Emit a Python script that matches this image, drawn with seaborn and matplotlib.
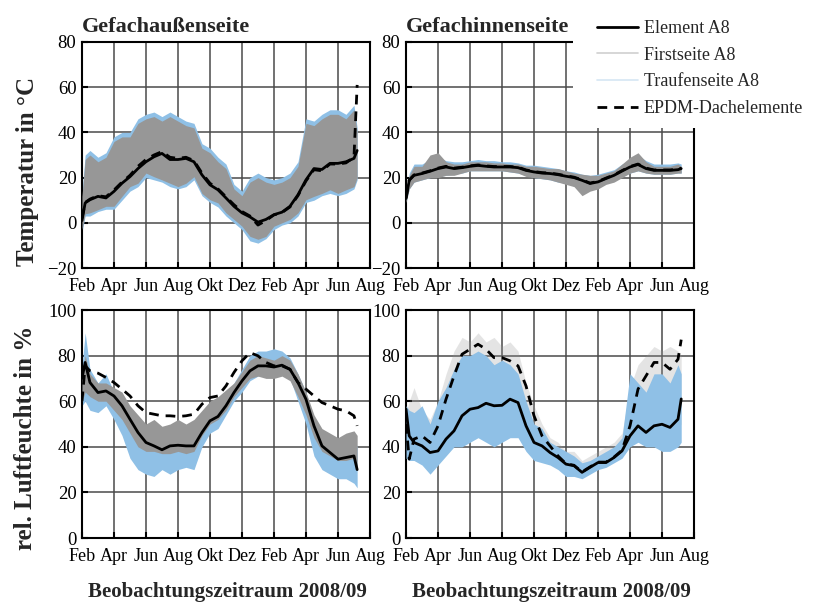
import matplotlib
matplotlib.use("Agg")
import matplotlib.pyplot as plt
from matplotlib.lines import Line2D
from matplotlib.patches import Rectangle
import seaborn as sns

# time axis in months since Feb 2008 (0 = Feb 08, 18 = Aug 09)
months = [0, 0.2, 0.5, 1, 1.5, 2, 2.5, 3, 3.5, 4, 4.5, 5, 5.5, 6, 6.5, 7, 7.5, 8, 8.5,
          9, 9.5, 10, 10.5, 11, 11.5, 12, 12.5, 13, 13.5, 14, 14.5, 15, 15.5, 16, 16.5, 17, 17.2]
tick_labels = ["Feb", "Apr", "Jun", "Aug", "Okt", "Dez", "Feb", "Apr", "Jun", "Aug"]

# Gefachaussenseite, temperature
temp_out_elem = [1, 8.8, 10.2, 11.7, 11, 13.9, 17.5, 20.4, 24, 27, 29.2, 30.7, 28, 28, 28.5, 27, 21.2, 16.8, 14.6,
                 11, 7.3, 4.4, 2.6, 0.3, 1.5, 3.6, 4.7, 7.3, 12.4, 19, 24, 23.6, 26.3, 26.3, 27, 28.5, 32]
temp_out_epdm = [2, 9, 10.5, 12, 11.5, 14.5, 18, 21, 25, 28, 30, 31.5, 29, 28.5, 29, 27.5, 22, 17.5, 15,
                 11.5, 8, 5, 3, -1, 1, 3.5, 4.5, 7, 12, 18.5, 23.5, 23, 26, 26, 26.5, 29, 61]
temp_out_first_lo = [-3, 4, 4.4, 5.8, 7.3, 7.3, 11.7, 16, 17.5, 22, 20.4, 19, 17.5, 16, 17.5, 20.4, 13, 10.2, 8.8,
                     4.4, 1.5, -1.5, -6, -7.3, -6, -1.5, 0, 1.5, 4.4, 10.2, 11.7, 13, 14.6, 13, 14.6, 16, 20]
temp_out_first_hi = [11.7, 28, 30, 27, 29, 36, 38, 38, 44, 46, 47, 45, 47, 45, 43, 42, 33, 31, 27,
                     24, 15, 12, 18, 20, 18, 17, 18, 20, 25, 44, 43, 46, 48, 48, 46, 50, 40]
temp_out_trauf_lo = [-4, 3, 3, 5, 6, 6, 10, 14, 16, 20, 19, 18, 16, 15, 16, 19, 12, 9, 7,
                     3, 0, -3, -8, -9, -7, -3, -1, 0, 3, 9, 10, 12, 13, 12, 13, 15, 19]
temp_out_trauf_hi = [13, 30, 32, 29, 31, 38, 40, 40, 46, 48, 49, 47, 49, 47, 45, 44, 35, 33, 29,
                     26, 17, 14, 20, 22, 20, 19, 20, 22, 27, 46, 45, 48, 50, 50, 48, 52, 42]

# Gefachinnenseite, temperature
temp_in_elem = [10.8, 18.8, 21, 21.8, 22.8, 24, 24.7, 24, 24.4, 25, 25.4, 25, 24.7, 24.7, 24.7, 24.4, 23.2, 22.5, 22,
                21.8, 21.3, 20.6, 20, 18.8, 17.4, 18.1, 19.6, 21, 22.9, 24.7, 25.8, 24, 23.2, 23.2, 23.2, 23.5, 24]
temp_in_epdm = [11, 19, 21.2, 22, 23, 24.2, 25, 24.2, 24.6, 25.2, 25.6, 25.2, 24.9, 24.9, 24.9, 24.6, 23.4, 22.7, 22.2,
                22, 21.5, 20.8, 20.2, 19, 17.6, 18.3, 19.8, 21.2, 23.1, 24.9, 26, 24.2, 23.4, 23.4, 23.4, 23.7, 24.2]
temp_in_first_lo = [9, 15, 18, 19, 20, 20, 21, 21, 22, 23, 23, 23, 23, 23, 22.5, 22, 20.5, 20, 19.5,
                    19, 18, 17, 16, 12, 14, 15, 17, 18, 20, 22, 23, 22, 21.5, 21.5, 21.5, 22, 22]
temp_in_first_hi = [12, 21, 25, 25, 30, 31, 27, 26, 26, 27, 27, 27, 26.5, 26.5, 26, 26, 25, 25, 24.5,
                    24, 24, 23, 22, 21.5, 21, 21, 22, 23, 26, 29, 31, 27, 25, 25, 25, 26, 25]
temp_in_trauf_lo = [9, 15, 18, 19, 20, 20.5, 21, 21.5, 22, 23, 23, 23, 23, 23, 22.5, 22, 21, 20, 19.5,
                    19, 18, 17.5, 16.5, 15, 15, 16, 17.5, 18.5, 20.5, 22, 23, 22, 21.5, 21.5, 21.5, 22, 22]
temp_in_trauf_hi = [13, 22, 26, 26, 28, 29, 27.5, 27, 27, 27.5, 28, 27.5, 27.5, 27, 27, 26.5, 25.5, 25.5, 25,
                    24.5, 24, 23, 22.5, 21.5, 21, 21.5, 22.5, 23.5, 26, 28, 30, 27.5, 26, 26, 26, 26.5, 26]

# Gefachaussenseite, relative humidity
rh_out_elem = [70, 77, 68.2, 63.8, 64.5, 62.3, 58, 52.1, 46.3, 41.9, 40.4, 38.7, 40.4, 40.7, 40.4, 40.4, 46.3, 51.4, 53.3,
               58, 63.8, 68.9, 73.3, 75.5, 75.5, 75, 75.8, 74, 68.2, 60.9, 49.2, 40.4, 37.5, 34.6, 35.3, 36, 30]
rh_out_epdm = [60, 75.5, 73.3, 72.3, 70.4, 68.2, 65.3, 62.3, 58, 55, 54.3, 53.6, 53.6, 53.3, 53.6, 54.3, 58.7, 61.6, 62.3,
               66.7, 72.6, 77.7, 81.3, 79.9, 77, 75.5, 75.5, 74, 68.2, 65.3, 62.3, 59.4, 58, 56.5, 55.8, 53.6, 49.2]
rh_out_first_lo = [60, 64, 62, 60, 60, 56, 52, 46, 40, 38, 38, 37, 37, 38, 37, 38, 45, 50, 52,
                   56, 62, 66, 70, 71, 70, 70, 71, 69, 62, 54, 44, 38, 36, 34, 34, 35, 30]
rh_out_first_hi = [72, 80, 72, 68, 68, 66, 64, 58, 54, 50, 52, 49, 50, 52, 50, 52, 56, 60, 62,
                   65, 68, 73, 78, 80, 79, 78, 80, 78, 72, 64, 54, 48, 46, 44, 46, 47, 45]
rh_out_trauf_lo = [58, 60, 56, 55, 58, 52, 45, 35, 30, 28, 27, 30, 28, 30, 31, 30, 40, 46, 48,
                   54, 60, 64, 69, 71, 72, 72, 73, 70, 60, 50, 36, 30, 28, 26, 26, 24, 22]
rh_out_trauf_hi = [75, 90, 74, 68, 72, 64, 60, 54, 48, 44, 45, 46, 44, 46, 46, 46, 52, 55, 58,
                   63, 68, 74, 80, 82, 82, 83, 82, 79, 72, 64, 52, 44, 42, 40, 41, 44, 40]

# Gefachinnenseite, relative humidity
rh_in_elem = [56.5, 44.8, 41.9, 40.4, 37.5, 38.2, 43.4, 47, 53.6, 56.5, 57.2, 59.1, 58, 58.2, 60.9, 59.4, 49.2, 41.9, 40.4,
              37.5, 35.3, 32.4, 31.7, 28.8, 31, 33.1, 33.1, 35.3, 38.2, 44.8, 49.2, 46.3, 49.2, 49.9, 48.5, 52.1, 61]
rh_in_epdm = [50, 34.6, 43.4, 44.8, 41.9, 49.2, 60.9, 71.1, 80.6, 82.8, 85, 82.8, 79.1, 79.1, 77.7, 75.5, 66.7, 53.6, 44.8,
              40.4, 36, 32.6, 31.9, 29, 31.2, 33.3, 33.3, 35.5, 38.5, 49.2, 65.3, 71.1, 77, 77, 74, 78.4, 87]
rh_in_first_lo = [40, 38, 38, 38, 36, 38, 42, 45, 48, 50, 50, 50, 50, 50, 50, 50, 42, 38, 36,
                  34, 32, 30, 30, 28, 30, 31, 32, 34, 36, 42, 44, 44, 45, 45, 45, 48, 50]
rh_in_first_hi = [55, 60, 66, 56, 52, 60, 72, 82, 88, 86, 90, 86, 88, 84, 86, 82, 68, 58, 50,
                  44, 42, 38, 38, 34, 36, 38, 40, 42, 46, 66, 76, 80, 84, 82, 84, 82, 80]
rh_in_trauf_lo = [35, 34, 34, 32, 28, 32, 36, 40, 40, 42, 44, 42, 40, 42, 44, 44, 38, 34, 33,
                  32, 30, 27, 27, 26, 28, 30, 31, 33, 35, 40, 42, 40, 40, 38, 38, 40, 42]
rh_in_trauf_hi = [58, 56, 55, 58, 50, 60, 66, 74, 80, 80, 82, 80, 76, 78, 76, 72, 60, 50, 48,
                  42, 40, 38, 36, 33, 34, 36, 38, 40, 44, 72, 68, 64, 72, 72, 68, 76, 72]

GRAY = "#979797"
BLUE = "#8fc0e6"
DASH = (0, (3.5, 2.5))

sns.set_style("ticks")
plt.rcParams["font.family"] = ["Liberation Serif", "DejaVu Serif"]
plt.rcParams["axes.linewidth"] = 1.5

fig = plt.figure(figsize=(8.14, 6.05), dpi=100)
ax_tl = fig.add_axes([0.1007, 0.557, 0.3538, 0.3736])
ax_tr = fig.add_axes([0.4988, 0.557, 0.3538, 0.3736])
ax_bl = fig.add_axes([0.1007, 0.1107, 0.3538, 0.3769])
ax_br = fig.add_axes([0.4988, 0.1107, 0.3538, 0.3769])


def draw_panel(ax, elem, epdm, f_lo, f_hi, t_lo, t_hi, ylim, gray_on_top=True):
    if gray_on_top:
        ax.fill_between(months, t_lo, t_hi, color=BLUE, lw=0, zorder=2)
        ax.fill_between(months, f_lo, f_hi, color=GRAY, lw=0, zorder=3)
    else:
        ax.fill_between(months, f_lo, f_hi, color=GRAY, alpha=0.25, lw=0, zorder=2)
        ax.fill_between(months, t_lo, t_hi, color=BLUE, lw=0, zorder=3)
    sns.lineplot(x=months, y=epdm, ax=ax, color="black", lw=2, linestyle=DASH, zorder=4)
    sns.lineplot(x=months, y=elem, ax=ax, color="black", lw=2, zorder=5)
    ax.set_xlim(0, 18)
    ax.set_ylim(*ylim)
    ax.set_xticks(range(0, 19, 2))
    ax.set_xticklabels(tick_labels, fontsize=13)
    ax.set_yticks(range(ylim[0], ylim[1] + 1, 20))
    ax.tick_params(axis="y", labelsize=13.5, pad=4)
    ax.tick_params(direction="in", length=4, width=1.5, colors="black")
    ax.tick_params(axis="x", pad=7)
    ax.grid(True, color="#4a4a4a", lw=1.1)
    ax.set_axisbelow(True)
    ax.set_xlabel("")
    ax.set_ylabel("")
    for s in ax.spines.values():
        s.set_visible(True)
        s.set_color("black")


draw_panel(ax_tl, temp_out_elem, temp_out_epdm, temp_out_first_lo, temp_out_first_hi,
           temp_out_trauf_lo, temp_out_trauf_hi, (-20, 80))
draw_panel(ax_tr, temp_in_elem, temp_in_epdm, temp_in_first_lo, temp_in_first_hi,
           temp_in_trauf_lo, temp_in_trauf_hi, (-20, 80))
draw_panel(ax_bl, rh_out_elem, rh_out_epdm, rh_out_first_lo, rh_out_first_hi,
           rh_out_trauf_lo, rh_out_trauf_hi, (0, 100))
draw_panel(ax_br, rh_in_elem, rh_in_epdm, rh_in_first_lo, rh_in_first_hi,
           rh_in_trauf_lo, rh_in_trauf_hi, (0, 100), gray_on_top=False)

ax_tl.text(0, 1.02, "Gefachaußenseite", transform=ax_tl.transAxes, fontsize=16,
           fontweight="bold", ha="left", va="bottom")
ax_tr.text(0.0, 1.02, "Gefachinnenseite", transform=ax_tr.transAxes, fontsize=16,
           fontweight="bold", ha="left", va="bottom")

fig.text(0.034, 0.716, "Temperatur in °C", rotation=90, fontsize=18, fontweight="bold",
         ha="center", va="center")
fig.text(0.031, 0.277, "rel. Luftfeuchte in %", rotation=90, fontsize=18, fontweight="bold",
         ha="center", va="center")
fig.text(0.279, 0.021, "Beobachtungszeitraum 2008/09", fontsize=15, fontweight="bold",
         ha="center", va="center")
fig.text(0.678, 0.021, "Beobachtungszeitraum 2008/09", fontsize=15, fontweight="bold",
         ha="center", va="center")

# white area behind the legend, covering the upper right corner of the top right panel
fig.patches.append(Rectangle((0.704, 0.788), 0.3, 0.22, transform=fig.transFigure,
                             facecolor="white", edgecolor="none", zorder=4))

handles = [
    Line2D([], [], color="black", lw=2),
    Line2D([], [], color="#cfcfcf", lw=1.2),
    Line2D([], [], color="#d6e6f4", lw=1.2),
    Line2D([], [], color="black", lw=2, linestyle=DASH),
]
labels = ["Element A8", "Firstseite A8", "Traufenseite A8", "EPDM-Dachelemente"]
leg = fig.legend(handles, labels, loc="upper left", bbox_to_anchor=(0.733, 0.967),
                 frameon=False, fontsize=13, handlelength=2.3, handletextpad=0.3,
                 labelspacing=0.54, borderpad=0, borderaxespad=0)
leg.set_zorder(6)

fig.savefig("out.png", dpi=100)
